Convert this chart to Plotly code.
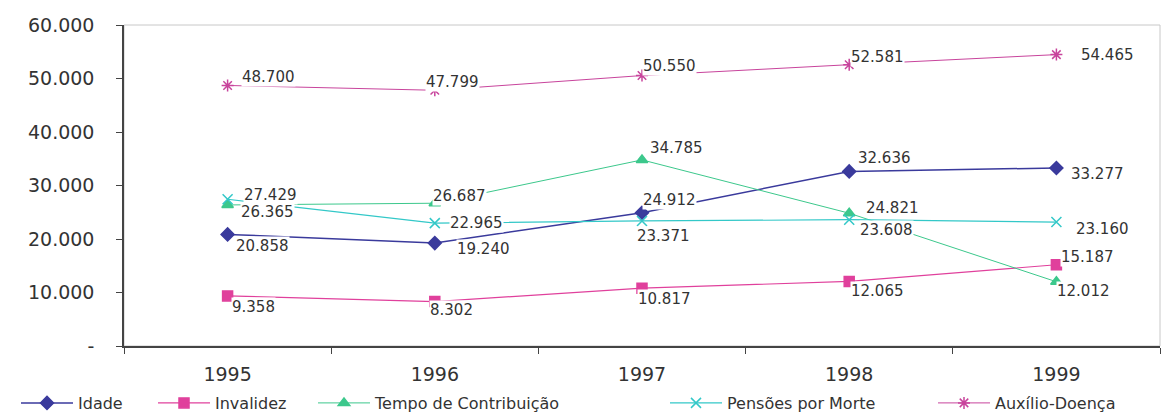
import plotly.graph_objects as go

years = ["1995", "1996", "1997", "1998", "1999"]

idade = [20858, 19240, 24912, 32636, 33277]
invalidez = [9358, 8302, 10817, 12065, 15187]
tempo_contrib = [26365, 26687, 34785, 24821, 12012]
pensoes_morte = [27429, 22965, 23371, 23608, 23160]
auxilio_doenca = [48700, 47799, 50550, 52581, 54465]

y_tick_vals = [0, 10000, 20000, 30000, 40000, 50000, 60000]
y_tick_text = ["-", "10.000", "20.000", "30.000", "40.000", "50.000", "60.000"]

series_names = ["Idade", "Invalidez", "Tempo de Contribuição", "Pensões por Morte", "Auxílio-Doença"]
series_values = [idade, invalidez, tempo_contrib, pensoes_morte, auxilio_doenca]

# styles
colors = ["#3a3a9c", "#e0409c", "#3cc88c", "#33c8c8", "#c8449c"]
symbols = ["diamond", "square", "triangle-up", "x-thin-open", "asterisk-open"]
msizes = [10, 10, 10, 10, 10]
lwidths = [1.5, 1.2, 1.0, 1.2, 1.0]
legend_x_px = [16, 153, 313, 665, 933]   # left edge of each legend entry (pixels)

# label offsets in pixels (dx right, dy down)
label_offsets = [
    [(35, 12), (49, 6), (27, -13), (35, -13), (41, 6)],
    [(26, 11), (17, 8), (22, 11), (28, 10), (31, -8)],
    [(40, 7), (25, -7), (34, -12), (43, -5), (27, 9)],
    [(43, -4), (42, 0), (21, 15), (37, 10), (46, 7)],
    [(41, -8), (18, -8), (27, -10), (28, -8), (51, 0)],
]

W, H = 1171, 412
ML, MR, MT, MB = 124, 11, 25, 66
PW = W - ML - MR
PH = H - MT - MB


def fmt(v):
    return f"{v:,}".replace(",", ".")


fig = go.Figure()
annotations = []
legends = {}
for k, (name, vals, c, s, ms, lw, offs, lx) in enumerate(zip(
        series_names, series_values, colors, symbols, msizes, lwidths,
        label_offsets, legend_x_px)):
    lname = "legend" if k == 0 else f"legend{k + 1}"
    fig.add_trace(go.Scatter(
        x=years, y=vals, name=name, mode="lines+markers",
        line=dict(color=c, width=lw),
        marker=dict(symbol=s, size=ms, color=c, line=dict(color=c, width=1.5)),
        legend=lname,
    ))
    legends[lname] = dict(
        orientation="h", x=(lx - ML) / PW, xanchor="left",
        y=(MT + PH - 403) / PH, yanchor="middle",
        font=dict(family="DejaVu Sans", size=16, color="#333333"),
        itemwidth=52, bgcolor="rgba(0,0,0,0)",
    )
    for i, (v, (dx, dy)) in enumerate(zip(vals, offs)):
        annotations.append(dict(
            x=i, y=v, xref="x", yref="y", text=fmt(v), showarrow=False,
            xshift=dx, yshift=-dy, xanchor="center", yanchor="middle",
            font=dict(family="DejaVu Sans", size=15, color="#333333"),
            bgcolor="white", borderpad=0,
        ))

fig.update_layout(
    width=W, height=H,
    margin=dict(l=ML, r=MR, t=MT, b=MB, autoexpand=False),
    paper_bgcolor="white", plot_bgcolor="white",
    font=dict(family="DejaVu Sans", color="#333333"),
    annotations=annotations,
    showlegend=True,
    shapes=[dict(type="rect", xref="paper", yref="paper", x0=0, x1=1, y0=0, y1=1,
                 line=dict(color="#c8c8c8", width=1), layer="below")],
    **legends,
)

fig.update_xaxes(
    type="category", tickson="boundaries", ticks="outside", ticklen=6,
    tickcolor="#444444", showline=True, linecolor="#444444", linewidth=1.5,
    showgrid=False, zeroline=False, ticklabelstandoff=10,
    tickfont=dict(family="DejaVu Sans", size=19, color="#333333"),
    range=[-0.5, 4.5],
)
fig.update_yaxes(
    range=[0, 60000], tickvals=y_tick_vals, ticktext=y_tick_text,
    ticks="outside", ticklen=6, tickcolor="#444444",
    showline=True, linecolor="#444444", linewidth=1.5,
    showgrid=False, zeroline=False, ticklabelstandoff=18,
    tickfont=dict(family="DejaVu Sans", size=19, color="#333333"),
)

fig.write_html("out.html")
